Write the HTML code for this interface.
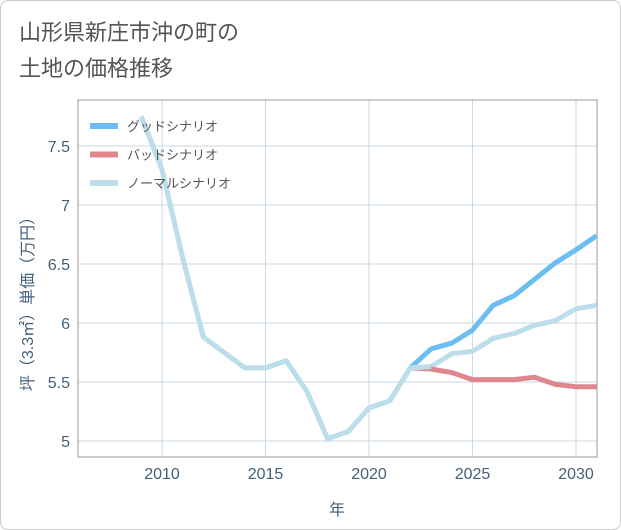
<!DOCTYPE html>
<html><head><meta charset="utf-8"><style>
body{margin:0;background:#fff;}
#wrap{position:relative;width:619px;height:528px;border:1px solid #ccc;border-radius:8px;background:#fff;overflow:hidden;font-family:"Liberation Sans","Noto Sans CJK JP",sans-serif;}
#title{position:absolute;left:18px;top:14px;font-size:22px;line-height:36px;color:#555;}
</style></head><body>
<div id="wrap">
<div id="title">山形県新庄市沖の町の<br>土地の価格推移</div>
<svg id="chart" width="621" height="530" style="position:absolute;left:-1px;top:-1px"></svg>
</div>
<script>
const years=[2009,2010,2011,2012,2013,2014,2015,2016,2017,2018,2019,2020,2021,2022,2023,2024,2025,2026,2027,2028,2029,2030,2031];
const normal=[7.75,7.3,6.55,5.88,5.75,5.62,5.62,5.68,5.42,5.02,5.08,5.28,5.34,5.62,5.63,5.74,5.76,5.87,5.91,5.98,6.02,6.12,6.15];
const goodYears=[2022,2023,2024,2025,2026,2027,2028,2029,2030,2031];
const good=[5.62,5.78,5.83,5.94,6.15,6.23,6.37,6.51,6.62,6.74];
const bad=[5.62,5.61,5.58,5.52,5.52,5.52,5.54,5.48,5.46,5.46];
const xTicks=[2010,2015,2020,2025,2030];
const yTicks=[5,5.5,6,6.5,7,7.5];
const yLabels=["5","5.5","6","6.5","7","7.5"];
const legendNames=["グッドシナリオ","バッドシナリオ","ノーマルシナリオ"];
const L=78,R=597,T=100,B=457;
const x=v=>162+(v-2010)*20.7;
const y=v=>441-(v-5)*118;
const svg=document.getElementById('chart');
const NS='http://www.w3.org/2000/svg';
function mk(t,a){const e=document.createElementNS(NS,t);for(const k in a)e.setAttribute(k,a[k]);svg.appendChild(e);return e;}
for(const t of xTicks){const l=mk('line',{x1:x(t),x2:x(t),y1:T,y2:B,stroke:'#c8d8e6','stroke-width':1});


const tx=mk('text',{x:x(t),y:B+22,'text-anchor':'middle','font-size':16,fill:'#44617b','font-family':'Liberation Sans, sans-serif'});tx.textContent=t;

}
yTicks.forEach((t,i)=>{const l=mk('line',{x1:L,x2:R,y1:y(t),y2:y(t),stroke:'#c8d8e6','stroke-width':1});


const tx=mk('text',{x:L-8,y:y(t)+6,'text-anchor':'end','font-size':16,fill:'#44617b','font-family':'Liberation Sans, sans-serif'});tx.textContent=yLabels[i];

});
const frame=mk('rect',{x:L,y:T,width:R-L,height:B-T,fill:'none',stroke:'#999','stroke-width':1});


const clip=mk('clipPath',{id:'c'});const cr=document.createElementNS(NS,'rect');cr.setAttribute('x',L);cr.setAttribute('y',T);cr.setAttribute('width',R-L);cr.setAttribute('height',B-T);clip.appendChild(cr);
function line(xs,vs,col,name){const p=mk('polyline',{points:xs.map((v,i)=>x(v)+','+y(vs[i])).join(' '),fill:'none',stroke:col,'stroke-width':5,'stroke-linejoin':'round','clip-path':'url(#c)'});

}
line(years,normal,'#bcdeeb','normal-scenario-line');
line(goodYears,bad,'#e0878e','bad-scenario-line');
line(goodYears,good,'#6bbdf2','good-scenario-line');
line(years.slice(0,15),normal.slice(0,15),'#bcdeeb','normal-scenario-line-front');
const cols=['#6bbdf2','#e0878e','#bcdeeb'];
legendNames.forEach((n,i)=>{const yy=126+i*28.5;
const s=mk('line',{x1:90,x2:118,y1:yy,y2:yy,stroke:cols[i],'stroke-width':6});


const t=mk('text',{x:127,y:yy+5,'font-size':13,fill:'#555','font-family':'Liberation Sans, Noto Sans CJK JP, sans-serif'});t.textContent=n;

});
const xt=mk('text',{x:337,y:515,'text-anchor':'middle','font-size':16,fill:'#44617b','font-family':'Liberation Sans, Noto Sans CJK JP, sans-serif'});xt.textContent='年';


const yt=mk('text',{x:0,y:0,'text-anchor':'middle','font-size':16,fill:'#44617b',transform:'translate(33,300) rotate(-90)','font-family':'Liberation Sans, Noto Sans CJK JP, sans-serif'});yt.textContent='坪（3.3㎡）単価（万円）';


</script>
</body></html>
